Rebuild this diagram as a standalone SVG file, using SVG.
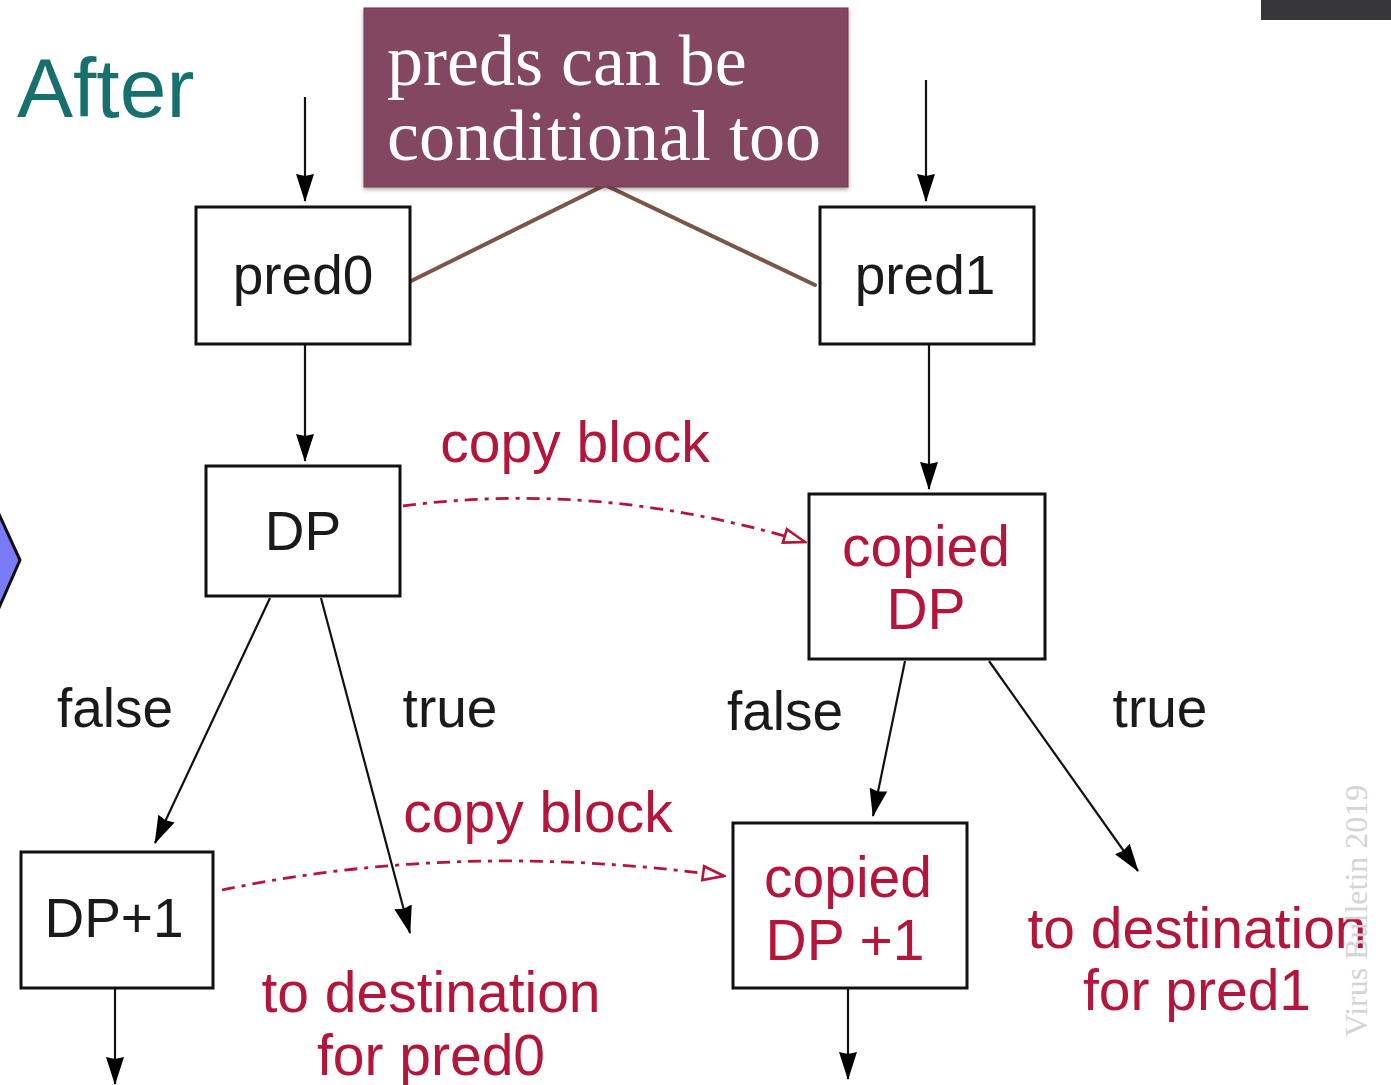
<svg xmlns="http://www.w3.org/2000/svg" width="1391" height="1085" viewBox="0 0 1391 1085">
  <style>
    .box { fill: #ffffff; stroke: #111111; stroke-width: 3; }
    .lbl { font-family: "Liberation Sans", Arial, sans-serif; font-size: 55px; fill: #1a1a1a; text-anchor: middle; }
    .red { fill: #b3163a; font-size: 57px; }
    .edge { fill: none; stroke: #111111; stroke-width: 2.2; marker-end: url(#arrow); }
    .copy { fill: none; stroke: #b3163a; stroke-width: 2.8; stroke-dasharray: 13 7 4 7; marker-end: url(#open); }
    .pointer { fill: none; stroke: #7a5646; stroke-width: 4; stroke-linecap: round; stroke-linejoin: miter; }
  </style>
  <defs>
    <marker id="arrow" viewBox="0 0 28 20" refX="27" refY="10" markerWidth="28" markerHeight="20" markerUnits="userSpaceOnUse" orient="auto">
      <path d="M0,1 L28,10 L0,19 L2,10 Z" fill="#000000"/>
    </marker>
    <marker id="open" viewBox="0 0 26 18" refX="24" refY="9" markerWidth="26" markerHeight="18" markerUnits="userSpaceOnUse" orient="auto">
      <path d="M3,2 L24,9 L3,16 Z" fill="#ffffff" stroke="#b3163a" stroke-width="2.6"/>
    </marker>
    <filter id="shadow" x="-5%" y="-5%" width="110%" height="115%">
      <feDropShadow dx="0" dy="2" stdDeviation="2" flood-color="#000000" flood-opacity="0.35"/>
    </filter>
  </defs>

  <rect width="1391" height="1085" fill="#ffffff"/>

  <!-- slide chrome -->
  <rect x="1261" y="0" width="130" height="20" fill="#363638"/>
  <path d="M-2,512 L20,560 L-2,610 Z" fill="#7b7bf7" stroke="#111111" stroke-width="3"/>
  <text x="17" y="117" font-family="'Liberation Sans', Arial, sans-serif" font-size="84" fill="#17706e">After</text>

  <!-- connectors -->
  <g id="connectors">
    <line class="edge" x1="305" y1="97" x2="305" y2="201"/>
    <line class="edge" x1="926" y1="80" x2="926" y2="201"/>
    <line class="edge" x1="305" y1="344" x2="305" y2="461"/>
    <line class="edge" x1="929" y1="344" x2="929" y2="489"/>
    <line class="edge" x1="270" y1="598" x2="155" y2="843"/>
    <line class="edge" x1="321" y1="598" x2="410" y2="933"/>
    <line class="edge" x1="905" y1="661" x2="873" y2="816"/>
    <line class="edge" x1="989" y1="661" x2="1138" y2="871"/>
    <line class="edge" x1="115" y1="988" x2="115" y2="1084"/>
    <line class="edge" x1="848" y1="988" x2="848" y2="1079"/>
    <path class="copy" d="M403,506 Q600,480 805,542"/>
    <path class="copy" d="M222,890 Q460,840 724,876"/>
    <polyline class="pointer" points="403,285 605,185 815,285"/>
  </g>

  <!-- callout -->
  <g id="callout">
    <rect x="364" y="8" width="484" height="179" fill="#834662" stroke="#6e3a52" stroke-width="1" filter="url(#shadow)"/>
    <text x="387" y="85" font-family="'Liberation Serif', 'Times New Roman', serif" font-size="72" fill="#ffffff">preds can be</text>
    <text x="387" y="160" font-family="'Liberation Serif', 'Times New Roman', serif" font-size="72" fill="#ffffff">conditional too</text>
  </g>

  <!-- nodes -->
  <g id="pred0">
    <rect class="box" x="196" y="207" width="214" height="137"/>
    <text class="lbl" x="303" y="294">pred0</text>
  </g>
  <g id="pred1">
    <rect class="box" x="820" y="207" width="214" height="137"/>
    <text class="lbl" x="925" y="294">pred1</text>
  </g>
  <g id="dp">
    <rect class="box" x="206" y="466" width="194" height="130"/>
    <text class="lbl" x="303" y="550">DP</text>
  </g>
  <g id="copied-dp">
    <rect class="box" x="809" y="494" width="236" height="165"/>
    <text class="lbl red" x="926" y="566">copied</text>
    <text class="lbl red" x="926" y="629">DP</text>
  </g>
  <g id="dp-plus-1">
    <rect class="box" x="21" y="852" width="192" height="136"/>
    <text class="lbl" x="114" y="937">DP+1</text>
  </g>
  <g id="copied-dp-plus-1">
    <rect class="box" x="733" y="823" width="234" height="165"/>
    <text class="lbl red" x="848" y="897">copied</text>
    <text class="lbl red" x="845" y="960">DP +1</text>
  </g>

  <!-- edge labels -->
  <g id="labels">
    <text class="lbl" x="115" y="727">false</text>
    <text class="lbl" x="450" y="727">true</text>
    <text class="lbl" x="785" y="730">false</text>
    <text class="lbl" x="1160" y="727">true</text>
    <text class="lbl red" x="575" y="462">copy block</text>
    <text class="lbl red" x="538" y="832">copy block</text>
    <text class="lbl red" x="431" y="1012">to destination</text>
    <text class="lbl red" x="431" y="1075">for pred0</text>
    <text class="lbl red" x="1197" y="948">to destination</text>
    <text class="lbl red" x="1197" y="1010">for pred1</text>
  </g>

  <text transform="translate(1367,1037) rotate(-90)" font-family="'Liberation Serif', 'Times New Roman', serif" font-size="32" fill="#d4d4d4">Virus Bulletin 2019</text>
</svg>
